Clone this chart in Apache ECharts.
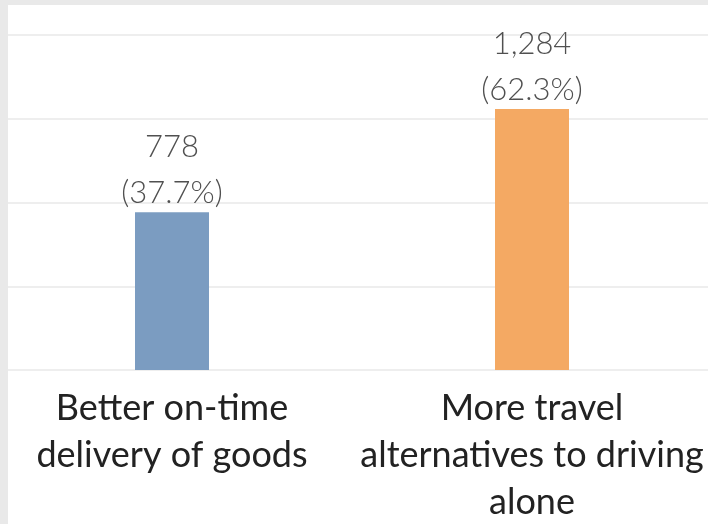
<!DOCTYPE html>
<html>
<head>
<meta charset="utf-8">
<script src="https://cdn.jsdelivr.net/npm/echarts@6/dist/echarts.min.js"></script>
<style>
  html, body { margin: 0; padding: 0; background: #e9e9e9; width: 708px; height: 524px; overflow: hidden; }
  #panel { position: absolute; left: 8px; top: 5px; width: 700px; height: 519px; background: #ffffff; }
  #chart { position: absolute; left: -8px; top: 5px; width: 720px; height: 519px; }
  #edge { position: absolute; left: 0; top: 0; width: 8px; height: 524px; background: #e9e9e9; z-index: 10; }
</style>
</head>
<body>
<div id="panel"></div>
<div id="chart"></div>
<div id="edge"></div>
<script>
const categories = ["Better on-time\ndelivery of goods", "More travel\nalternatives to driving\nalone"];
const counts = [778, 1284];
const percents = [37.7, 62.3];
const barColors = ["#7b9cc1", "#f4a963"];
const yTicks = [0, 20, 40, 60, 80];

const chart = echarts.init(document.getElementById('chart'));
chart.setOption({
  animation: false,
  grid: { left: 0, right: 0, top: 30, bottom: 154, containLabel: false, outerBoundsMode: 'none' },
  xAxis: {
    type: 'category',
    data: categories,
    axisLine: { show: false },
    axisTick: { show: false },
    axisLabel: {
      interval: 0,
      margin: 15,
      color: '#222222',
      fontFamily: 'Lato',
      fontSize: 36,
      lineHeight: 47
    }
  },
  yAxis: {
    type: 'value',
    min: yTicks[0],
    max: yTicks[yTicks.length - 1],
    interval: 20,
    axisLabel: { show: false },
    axisLine: { show: false },
    axisTick: { show: false },
    splitLine: { lineStyle: { color: '#eeeeee', width: 2 } }
  },
  series: [{
    type: 'bar',
    barWidth: 74,
    data: percents.map((p, i) => ({ value: p, itemStyle: { color: barColors[i] } })),
    label: {
      show: true,
      position: 'top',
      distance: -4,
      color: '#505050',
      fontFamily: 'Lato',
      fontWeight: 300,
      fontSize: 31,
      lineHeight: 46,
      formatter: (p) => counts[p.dataIndex].toLocaleString('en-US') + '\n(' + percents[p.dataIndex].toFixed(1) + '%)'
    }
  }]
});
</script>
</body>
</html>
